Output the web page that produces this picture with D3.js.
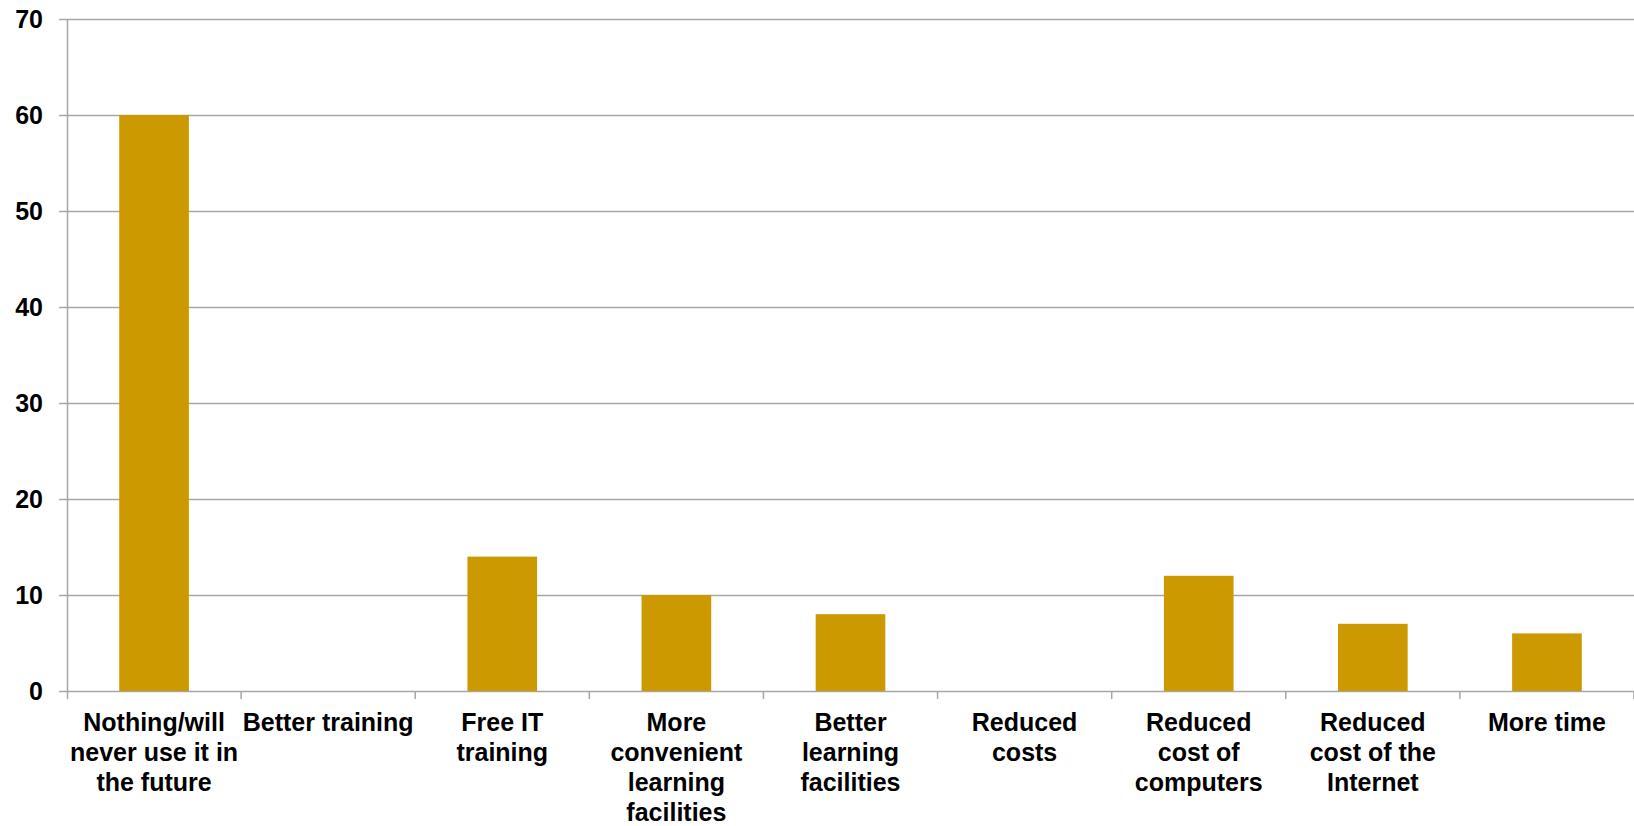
<!DOCTYPE html>
<html><head><meta charset="utf-8">
<script src="https://cdn.jsdelivr.net/npm/d3@7/dist/d3.min.js"></script>
<style>
html,body{margin:0;padding:0;background:#fff;}
text{font-family:"Liberation Sans",Arial,sans-serif;font-weight:bold;fill:#000;}
</style></head>
<body>
<svg id="c" width="1634" height="826"></svg>
<script>
const categories = [
  ["Nothing/will","never use it in","the future"],
  ["Better training"],
  ["Free IT","training"],
  ["More","convenient","learning","facilities"],
  ["Better","learning","facilities"],
  ["Reduced","costs"],
  ["Reduced","cost of","computers"],
  ["Reduced","cost of the","Internet"],
  ["More time"]
];
const values = [60, 0, 14, 10, 8, 0, 12, 7, 6];
const yTicks = [0, 10, 20, 30, 40, 50, 60, 70];

(function(){
const svg = d3.select("#c");
const mLeft = 67, mRight = 1634, mTop = 19, mBottom = 691;
const keys = categories.map((d,i)=>i);
const x = d3.scaleBand().domain(keys).range([mLeft, mRight]).paddingInner(0.6).paddingOuter(0.3);
const xb = d3.scaleBand().domain(keys).range([mLeft, mRight]).padding(0);
const y = d3.scaleLinear().domain([0, 70]).range([mBottom, mTop]);

// gridlines
svg.append("g").selectAll("line").data(yTicks).join("line")
  .attr("x1", mLeft - 8).attr("x2", mRight)
  .attr("y1", d => y(d) + 0.5).attr("y2", d => y(d) + 0.5)
  .attr("stroke", "#a6a6a6").attr("stroke-width", 1.5);

// y axis line
svg.append("line").attr("x1", mLeft + 0.5).attr("x2", mLeft + 0.5)
  .attr("y1", mTop).attr("y2", mBottom + 8)
  .attr("stroke", "#a6a6a6").attr("stroke-width", 1.5);

// category ticks
svg.append("g").selectAll("line").data(keys.slice(1).concat([keys.length])).join("line")
  .attr("x1", d => mLeft + d * xb.step()).attr("x2", d => mLeft + d * xb.step())
  .attr("y1", mBottom).attr("y2", mBottom + 8)
  .attr("stroke", "#a6a6a6").attr("stroke-width", 1.5);

// bars
svg.append("g").selectAll("rect").data(values).join("rect")
  .attr("x", (d,i) => x(i)).attr("width", x.bandwidth())
  .attr("y", d => y(d)).attr("height", d => y(0) - y(d))
  .attr("fill", "#cc9900");

// y tick labels
svg.append("g").selectAll("text").data(yTicks).join("text")
  .attr("x", 43).attr("y", d => y(d)).attr("dy", "0.35em")
  .attr("text-anchor", "end").attr("font-size", 25)
  .text(d => d);

// category labels
const lab = svg.append("g").selectAll("text").data(categories).join("text")
  .attr("text-anchor", "middle").attr("font-size", 25)
  .attr("transform", (d,i) => `translate(${xb(i) + xb.bandwidth()/2},731)`);
lab.selectAll("tspan").data(d => d).join("tspan")
  .attr("x", 0).attr("y", (d,j) => j * 30).text(d => d);
})();
</script>
</body></html>
